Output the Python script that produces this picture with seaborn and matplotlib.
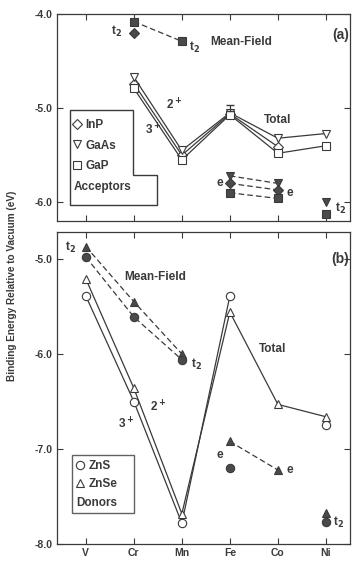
import numpy as np
import matplotlib
matplotlib.use("Agg")
import matplotlib.pyplot as plt
import seaborn as sns
from matplotlib.lines import Line2D
from matplotlib.patches import Polygon

elements = ["V", "Cr", "Mn", "Fe", "Co", "Ni"]

# (a) acceptors - total energies
acc_x = ["Cr", "Mn", "Fe", "Co", "Ni"]
inp_total = [-4.74, -5.50, -5.06, -5.41, np.nan]
gaas_total = [-4.67, -5.45, -5.05, -5.32, -5.27]
gap_total = [-4.79, -5.55, -5.07, -5.48, -5.40]
# (a) mean-field levels
gap_t2_x = ["Cr", "Mn"]
gap_t2 = [-4.08, -4.29]
inp_t2_x = ["Cr"]
inp_t2 = [-4.20]
acc_e_x = ["Fe", "Co"]
gaas_e = [-5.72, -5.80]
inp_e = [-5.80, -5.87]
gap_e = [-5.90, -5.96]
acc_ni_x = ["Ni"]
gaas_ni_t2 = [-6.00]
gap_ni_t2 = [-6.13]

# (b) donors - total energies
zns_x = ["V", "Cr", "Mn", "Fe"]
zns_total = [-5.39, -6.50, -7.78, -5.39]
zns_ni = [-6.75]
znse_total = [-5.21, -6.36, -7.68, -5.56, -6.53, -6.66]
# (b) mean-field levels
don_t2_x = ["V", "Cr", "Mn"]
znse_t2 = [-4.87, -5.45, -6.00]
zns_t2 = [-4.98, -5.61, -6.06]
znse_e_x = ["Fe", "Co"]
znse_e = [-6.92, -7.22]
zns_e_x = ["Fe"]
zns_e = [-7.20]
don_ni_x = ["Ni"]
znse_ni_t2 = [-7.67]
zns_ni_t2 = [-7.77]

sns.set_style("ticks")
plt.rcParams["font.family"] = ["Liberation Sans", "DejaVu Sans"]
plt.rcParams["font.weight"] = "bold"

pos = {e: i for i, e in enumerate(elements)}
ink = "#3a3a3a"
fill = "#4a4a4a"


def draw(ax, names, vals, marker, filled, ls="-", ms=6):
    x = [pos[n] for n in names]
    n_before = len(ax.lines)
    sns.lineplot(x=x, y=vals, ax=ax, color=ink, linestyle=ls, lw=0.9,
                 marker=marker, markersize=ms,
                 markerfacecolor=fill if filled else "white",
                 markeredgecolor=ink, markeredgewidth=0.8)
    if ls == "--":
        for ln in ax.lines[n_before:]:
            ln.set_dashes((4.5, 2.5))


fig = plt.figure(figsize=(3.52, 5.61), dpi=100)
ax1 = fig.add_axes([0.162, 0.606, 0.832, 0.369])
ax2 = fig.add_axes([0.162, 0.030, 0.832, 0.556])

# panel (a)
draw(ax1, acc_x, inp_total, "D", False, ms=5)
draw(ax1, acc_x, gaas_total, "v", False)
draw(ax1, acc_x, gap_total, "s", False)
ax1.errorbar([pos["Fe"]], [-5.03], yerr=[[0.0], [0.06]], color=ink, lw=0.9,
             capsize=3, fmt="none")
draw(ax1, gap_t2_x, gap_t2, "s", True, ls="--")
draw(ax1, inp_t2_x, inp_t2, "D", True, ms=5)
draw(ax1, acc_e_x, gaas_e, "v", True, ls="--")
draw(ax1, acc_e_x, inp_e, "D", True, ls="--", ms=5)
draw(ax1, acc_e_x, gap_e, "s", True, ls="--")
draw(ax1, acc_ni_x, gaas_ni_t2, "v", True)
draw(ax1, acc_ni_x, gap_ni_t2, "s", True)

# panel (b)
draw(ax2, zns_x, zns_total, "o", False)
draw(ax2, don_ni_x, zns_ni, "o", False)
draw(ax2, elements, znse_total, "^", False)
draw(ax2, don_t2_x, znse_t2, "^", True, ls="--")
draw(ax2, don_t2_x, zns_t2, "o", True, ls="--")
draw(ax2, znse_e_x, znse_e, "^", True, ls="--")
draw(ax2, zns_e_x, zns_e, "o", True)
draw(ax2, don_ni_x, znse_ni_t2, "^", True)
draw(ax2, don_ni_x, zns_ni_t2, "o", True)

for ax in (ax1, ax2):
    ax.set_xlim(-0.6, 5.5)
    ax.set_xticks(range(len(elements)))
    ax.tick_params(direction="in", top=True, right=True, length=4,
                   width=0.8, colors=ink, labelsize=7.5, pad=3)
    ax.set_xlabel("")
    ax.set_ylabel("")
    for s in ax.spines.values():
        s.set_color(ink)
        s.set_linewidth(0.9)

ax1.set_ylim(-6.2, -4.0)
ax1.set_yticks([-4.0, -5.0, -6.0])
ax1.set_yticklabels(["-4.0", "-5.0", "-6.0"])
ax1.set_xticklabels([])
ax2.set_ylim(-8.0, -4.72)
ax2.set_yticks([-5.0, -6.0, -7.0, -8.0])
ax2.set_yticklabels(["-5.0", "-6.0", "-7.0", "-8.0"])
ax2.set_xticklabels(elements, fontsize=7.5)

tk = dict(color=ink, fontweight="bold", fontsize=8.5)
# panel (a) texts
ax1.text(0.75, -4.18, "t$_2$", ha="right", va="center", **tk)
ax1.text(2.15, -4.36, "t$_2$", ha="left", va="center", **tk)
ax1.text(2.6, -4.30, "Mean-Field", ha="left", va="center", **tk)
ax1.text(5.3, -4.22, "(a)", ha="center", va="center", fontsize=10,
         fontweight="bold", color=ink)
ax1.text(1.85, -4.97, "2$^+$", ha="center", va="center", **tk)
ax1.text(1.4, -5.23, "3$^+$", ha="center", va="center", **tk)
ax1.text(3.7, -5.13, "Total", ha="left", va="center", **tk)
ax1.text(2.8, -5.80, "e", ha="center", va="center", **tk)
ax1.text(4.25, -5.90, "e", ha="center", va="center", **tk)
ax1.text(5.2, -6.07, "t$_2$", ha="left", va="center", **tk)

# panel (b) texts
ax2.text(-0.2, -4.88, "t$_2$", ha="right", va="center", **tk)
ax2.text(5.3, -5.0, "(b)", ha="center", va="center", fontsize=10,
         fontweight="bold", color=ink)
ax2.text(0.8, -5.19, "Mean-Field", ha="left", va="center", **tk)
ax2.text(2.2, -6.11, "t$_2$", ha="left", va="center", **tk)
ax2.text(3.6, -5.95, "Total", ha="left", va="center", **tk)
ax2.text(1.5, -6.56, "2$^+$", ha="center", va="center", **tk)
ax2.text(0.85, -6.74, "3$^+$", ha="center", va="center", **tk)
ax2.text(2.8, -7.06, "e", ha="center", va="center", **tk)
ax2.text(4.25, -7.22, "e", ha="center", va="center", **tk)
ax2.text(5.15, -7.77, "t$_2$", ha="left", va="center", **tk)

fig.text(0.035, 0.49, "Binding Energy Relative to Vacuum (eV)", rotation=90,
         ha="center", va="center", fontsize=7.2, fontweight="bold", color=ink)


def key(marker, ms=6):
    return Line2D([], [], ls="none", marker=marker, markersize=ms,
                  markerfacecolor="white", markeredgecolor=ink,
                  markeredgewidth=0.8)


blank = Line2D([], [], ls="none")
leg1 = ax1.legend([key("D", 5), key("v"), key("s"), blank],
                  ["InP", "GaAs", "GaP", "Acceptors"],
                  loc="upper left", bbox_to_anchor=(0.025, 0.54),
                  frameon=False, handlelength=0.6, handletextpad=0.4,
                  labelspacing=0.75, borderpad=0.3,
                  prop=dict(size=8.5, weight="bold"))
for t in leg1.get_texts():
    t.set_color(ink)
leg1.get_texts()[3].set_position((-12, 0))
ax1.add_patch(Polygon([(0.044, 0.536), (0.26, 0.536), (0.26, 0.222),
                       (0.341, 0.222), (0.341, 0.077), (0.044, 0.077)],
                      closed=True, transform=ax1.transAxes, fill=False,
                      edgecolor=ink, lw=1.0))

leg2 = ax2.legend([key("o"), key("^"), blank], ["ZnS", "ZnSe", "Donors"],
                  loc="upper left", bbox_to_anchor=(0.03, 0.305),
                  frameon=True, fancybox=False, handlelength=0.6,
                  handletextpad=0.4, labelspacing=0.55, borderpad=0.4,
                  prop=dict(size=8.5, weight="bold"))
leg2.get_frame().set_edgecolor(ink)
leg2.get_frame().set_linewidth(1.0)
for t in leg2.get_texts():
    t.set_color(ink)
leg2.get_texts()[2].set_position((-12, 0))

fig.savefig("out.png", dpi=100)
